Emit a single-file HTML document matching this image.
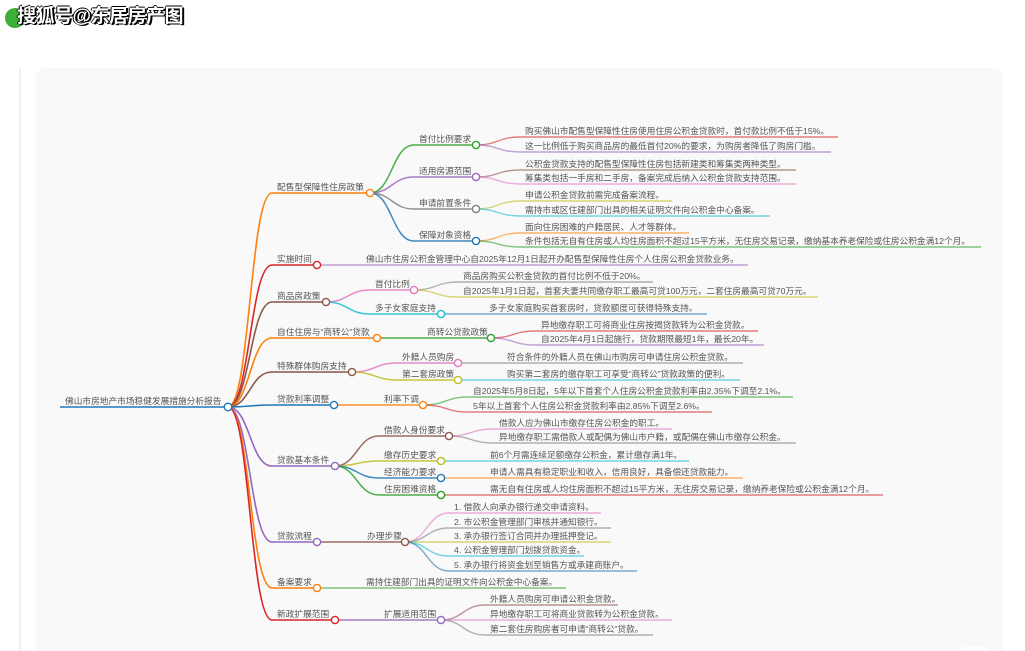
<!DOCTYPE html>
<html><head><meta charset="utf-8">
<style>
html,body{margin:0;padding:0;background:#fff;width:1025px;height:651px;overflow:hidden;position:relative;}
svg{display:block;position:absolute;left:0;top:0;}
.t{font-family:"Liberation Sans","Noto Sans CJK SC",sans-serif;font-size:8.7px;fill:#555;}
.l1{fill:none;stroke-width:1.6;}
.l2{fill:none;stroke-width:1.5;opacity:.85;}
.l3{fill:none;stroke-width:1.4;opacity:.6;}
circle{fill:#fff;stroke-width:1.4;}
#hdr{position:absolute;z-index:2;left:17px;top:5px;font-family:"Liberation Sans","Noto Sans CJK SC",sans-serif;font-size:19px;font-weight:bold;color:#fff;text-shadow:1px 1px 0 #000,2px 1px 0 #000,-1px 0 0 #000,0 -1px 0 #000;letter-spacing:-0.5px;white-space:nowrap;line-height:24px;}
#dot{position:absolute;z-index:1;left:5px;top:8px;width:20px;height:20px;border-radius:50%;background:#3cb034;}
</style></head><body>
<svg width="1025" height="651" viewBox="0 0 1025 651" xmlns="http://www.w3.org/2000/svg">
<rect x="19" y="68" width="2" height="583" fill="#efefef"/>
<path d="M36,651 V78 Q36,68 46,68 H993 Q1003,68 1003,78 V651 Z" fill="#f9f9f9"/>
<rect x="960" y="647" width="28" height="8" rx="4" fill="#fff"/>

<!-- root -->
<path class="l1" stroke="#1f77b4" d="M60,407 H228"/>

<!-- level 1 links -->
<path class="l1" stroke="#ff7f0e" d="M228,407 C250,407 250,193 272,193 H370"/>
<path class="l1" stroke="#d62728" d="M228,407 C250,407 250,265 272,265 H317"/>
<path class="l1" stroke="#8c564b" d="M228,407 C250,407 250,302 272,302 H326"/>
<path class="l1" stroke="#ff7f0e" d="M228,407 C250,407 250,338 272,338 H377"/>
<path class="l1" stroke="#8c564b" d="M228,407 C250,407 250,372 272,372 H352"/>
<path class="l1" stroke="#1f77b4" d="M228,407 C250,407 250,405 272,405 H334"/>
<path class="l1" stroke="#9467bd" d="M228,407 C250,407 250,466 272,466 H335"/>
<path class="l1" stroke="#9467bd" d="M228,407 C250,407 250,542 272,542 H317"/>
<path class="l1" stroke="#ff7f0e" d="M228,407 C250,407 250,588 272,588 H317"/>
<path class="l1" stroke="#d62728" d="M228,407 C250,407 250,620 272,620 H335"/>

<!-- branch 1 -->
<path class="l2" stroke="#2ca02c" d="M370,193 C392,193 392,145 414,145 H476"/>
<path class="l2" stroke="#9467bd" d="M370,193 C392,193 392,177 414,177 H476"/>
<path class="l2" stroke="#7f7f7f" d="M370,193 C392,193 392,209 414,209 H476"/>
<path class="l2" stroke="#1f77b4" d="M370,193 C392,193 392,241 414,241 H476"/>
<path class="l3" stroke="#d62728" d="M476,145 C498,145 498,137 520,137 H838"/>
<path class="l3" stroke="#9467bd" d="M476,145 C498,145 498,152 520,152 H831"/>
<path class="l3" stroke="#8c564b" d="M476,177 C498,177 498,170 520,170 H796"/>
<path class="l3" stroke="#e377c2" d="M476,177 C498,177 498,184 520,184 H796"/>
<path class="l3" stroke="#bcbd22" d="M476,209 C498,209 498,201 520,201 H672"/>
<path class="l3" stroke="#17becf" d="M476,209 C498,209 498,216 520,216 H770"/>
<path class="l3" stroke="#ff7f0e" d="M476,241 C498,241 498,233 520,233 H689"/>
<path class="l3" stroke="#2ca02c" d="M476,241 C498,241 498,247 520,247 H981"/>

<!-- branch 2 -->
<path class="l3" stroke="#9467bd" d="M317,265 H748"/>

<!-- branch 3 -->
<path class="l2" stroke="#e377c2" d="M326,302 C348,302 348,290 370,290 H414"/>
<path class="l2" stroke="#17becf" d="M326,302 C348,302 348,314 370,314 H441"/>
<path class="l3" stroke="#7f7f7f" d="M414,290 C436,290 436,282 458,282 H653"/>
<path class="l3" stroke="#bcbd22" d="M414,290 C436,290 436,297 458,297 H818"/>
<path class="l3" stroke="#1f77b4" d="M441,314 H707"/>

<!-- branch 4 -->
<path class="l2" stroke="#2ca02c" d="M377,338 H491"/>
<path class="l3" stroke="#d62728" d="M491,338 C513,338 513,331 536,331 H758"/>
<path class="l3" stroke="#9467bd" d="M491,338 C513,338 513,345 536,345 H764"/>

<!-- branch 5 -->
<path class="l2" stroke="#e377c2" d="M352,372 C375,372 375,363 397,363 H458"/>
<path class="l2" stroke="#bcbd22" d="M352,372 C375,372 375,380 397,380 H458"/>
<path class="l3" stroke="#7f7f7f" d="M458,363 H743"/>
<path class="l3" stroke="#17becf" d="M458,380 H740"/>

<!-- branch 6 -->
<path class="l2" stroke="#ff7f0e" d="M334,405 H423"/>
<path class="l3" stroke="#2ca02c" d="M423,405 C446,405 446,397 468,397 H793"/>
<path class="l3" stroke="#d62728" d="M423,405 C446,405 446,412 468,412 H712"/>

<!-- branch 7 -->
<path class="l2" stroke="#8c564b" d="M335,466 C357,466 357,436 379,436 H449"/>
<path class="l2" stroke="#bcbd22" d="M335,466 C357,466 357,461 379,461 H441"/>
<path class="l2" stroke="#1f77b4" d="M335,466 C357,466 357,478 379,478 H441"/>
<path class="l2" stroke="#2ca02c" d="M335,466 C357,466 357,495 379,495 H441"/>
<path class="l3" stroke="#e377c2" d="M449,436 C471,436 471,429 494,429 H672"/>
<path class="l3" stroke="#7f7f7f" d="M449,436 C471,436 471,443 494,443 H796"/>
<path class="l3" stroke="#17becf" d="M441,461 H689"/>
<path class="l3" stroke="#ff7f0e" d="M441,478 H743"/>
<path class="l3" stroke="#d62728" d="M441,495 H883"/>

<!-- branch 8 -->
<path class="l2" stroke="#8c564b" d="M317,542 H405"/>
<path class="l3" stroke="#e377c2" d="M405,542 C427,542 427,513 449,513 H601"/>
<path class="l3" stroke="#7f7f7f" d="M405,542 C427,542 427,528 449,528 H611"/>
<path class="l3" stroke="#bcbd22" d="M405,542 C427,542 427,542 449,542 H611"/>
<path class="l3" stroke="#17becf" d="M405,542 C427,542 427,556 449,556 H584"/>
<path class="l3" stroke="#1f77b4" d="M405,542 C427,542 427,571 449,571 H637"/>

<!-- branch 9 -->
<path class="l3" stroke="#2ca02c" d="M317,588 H566"/>

<!-- branch 10 -->
<path class="l2" stroke="#9467bd" d="M335,620 H441"/>
<path class="l3" stroke="#8c564b" d="M441,620 C463,620 463,605 485,605 H618"/>
<path class="l3" stroke="#e377c2" d="M441,620 C463,620 463,620 485,620 H672"/>
<path class="l3" stroke="#7f7f7f" d="M441,620 C463,620 463,635 485,635 H653"/>

<!-- circles -->
<circle cx="228" cy="407" r="3.8" stroke="#1f77b4"/>
<circle cx="370" cy="193" r="3.6" stroke="#ff7f0e"/>
<circle cx="317" cy="265" r="3.6" stroke="#d62728"/>
<circle cx="326" cy="302" r="3.6" stroke="#8c564b"/>
<circle cx="377" cy="338" r="3.6" stroke="#ff7f0e"/>
<circle cx="352" cy="372" r="3.6" stroke="#8c564b"/>
<circle cx="334" cy="405" r="3.6" stroke="#1f77b4"/>
<circle cx="335" cy="466" r="3.6" stroke="#9467bd"/>
<circle cx="317" cy="542" r="3.6" stroke="#9467bd"/>
<circle cx="317" cy="588" r="3.6" stroke="#ff7f0e"/>
<circle cx="335" cy="620" r="3.6" stroke="#d62728"/>
<circle cx="476" cy="145" r="3.6" stroke="#2ca02c"/>
<circle cx="476" cy="177" r="3.6" stroke="#9467bd"/>
<circle cx="476" cy="209" r="3.6" stroke="#7f7f7f"/>
<circle cx="476" cy="241" r="3.6" stroke="#1f77b4"/>
<circle cx="414" cy="290" r="3.6" stroke="#e377c2"/>
<circle cx="441" cy="314" r="3.6" stroke="#17becf"/>
<circle cx="491" cy="338" r="3.6" stroke="#2ca02c"/>
<circle cx="458" cy="363" r="3.6" stroke="#e377c2"/>
<circle cx="458" cy="380" r="3.6" stroke="#bcbd22"/>
<circle cx="423" cy="405" r="3.6" stroke="#ff7f0e"/>
<circle cx="449" cy="436" r="3.6" stroke="#8c564b"/>
<circle cx="441" cy="461" r="3.6" stroke="#bcbd22"/>
<circle cx="441" cy="478" r="3.6" stroke="#1f77b4"/>
<circle cx="441" cy="495" r="3.6" stroke="#2ca02c"/>
<circle cx="405" cy="542" r="3.6" stroke="#8c564b"/>
<circle cx="441" cy="620" r="3.6" stroke="#9467bd"/>

<!-- text -->
<text class="t" x="65" y="404">佛山市房地产市场稳健发展措施分析报告</text>

<text class="t" x="277" y="190">配售型保障性住房政策</text>
<text class="t" x="277" y="262">实施时间</text>
<text class="t" x="277" y="299">商品房政策</text>
<text class="t" x="277" y="335">自住住房与“商转公”贷款</text>
<text class="t" x="277" y="369">特殊群体购房支持</text>
<text class="t" x="277" y="402">贷款利率调整</text>
<text class="t" x="277" y="463">贷款基本条件</text>
<text class="t" x="277" y="539">贷款流程</text>
<text class="t" x="277" y="585">备案要求</text>
<text class="t" x="277" y="617">新政扩展范围</text>

<text class="t" x="419" y="142">首付比例要求</text>
<text class="t" x="419" y="174">适用房源范围</text>
<text class="t" x="419" y="206">申请前置条件</text>
<text class="t" x="419" y="238">保障对象资格</text>
<text class="t" x="525" y="134">购买佛山市配售型保障性住房使用住房公积金贷款时，首付款比例不低于15%。</text>
<text class="t" x="525" y="149">这一比例低于购买商品房的最低首付20%的要求，为购房者降低了购房门槛。</text>
<text class="t" x="525" y="167">公积金贷款支持的配售型保障性住房包括新建类和筹集类两种类型。</text>
<text class="t" x="525" y="181">筹集类包括一手房和二手房，备案完成后纳入公积金贷款支持范围。</text>
<text class="t" x="525" y="198">申请公积金贷款前需完成备案流程。</text>
<text class="t" x="525" y="213">需持市或区住建部门出具的相关证明文件向公积金中心备案。</text>
<text class="t" x="525" y="230">面向住房困难的户籍居民、人才等群体。</text>
<text class="t" x="525" y="244">条件包括无自有住房或人均住房面积不超过15平方米，无住房交易记录，缴纳基本养老保险或住房公积金满12个月。</text>

<text class="t" x="366" y="262">佛山市住房公积金管理中心自2025年12月1日起开办配售型保障性住房个人住房公积金贷款业务。</text>

<text class="t" x="375" y="287">首付比例</text>
<text class="t" x="375" y="311">多子女家庭支持</text>
<text class="t" x="463" y="279">商品房购买公积金贷款的首付比例不低于20%。</text>
<text class="t" x="463" y="294">自2025年1月1日起，首套夫妻共同缴存职工最高可贷100万元，二套住房最高可贷70万元。</text>
<text class="t" x="489" y="311">多子女家庭购买首套房时，贷款额度可获得特殊支持。</text>

<text class="t" x="427" y="335">商转公贷款政策</text>
<text class="t" x="541" y="328">异地缴存职工可将商业住房按揭贷款转为公积金贷款。</text>
<text class="t" x="541" y="342">自2025年4月1日起施行，贷款期限最短1年，最长20年。</text>

<text class="t" x="402" y="360">外籍人员购房</text>
<text class="t" x="402" y="377">第二套房政策</text>
<text class="t" x="507" y="360">符合条件的外籍人员在佛山市购房可申请住房公积金贷款。</text>
<text class="t" x="507" y="377">购买第二套房的缴存职工可享受“商转公”贷款政策的便利。</text>

<text class="t" x="384" y="402">利率下调</text>
<text class="t" x="473" y="394">自2025年5月8日起，5年以下首套个人住房公积金贷款利率由2.35%下调至2.1%。</text>
<text class="t" x="473" y="409">5年以上首套个人住房公积金贷款利率由2.85%下调至2.6%。</text>

<text class="t" x="384" y="433">借款人身份要求</text>
<text class="t" x="384" y="458">缴存历史要求</text>
<text class="t" x="384" y="475">经济能力要求</text>
<text class="t" x="384" y="492">住房困难资格</text>
<text class="t" x="499" y="426">借款人应为佛山市缴存住房公积金的职工。</text>
<text class="t" x="499" y="440">异地缴存职工需借款人或配偶为佛山市户籍，或配偶在佛山市缴存公积金。</text>
<text class="t" x="490" y="458">前6个月需连续足额缴存公积金，累计缴存满1年。</text>
<text class="t" x="490" y="475">申请人需具有稳定职业和收入，信用良好，具备偿还贷款能力。</text>
<text class="t" x="490" y="492">需无自有住房或人均住房面积不超过15平方米，无住房交易记录，缴纳养老保险或公积金满12个月。</text>

<text class="t" x="367" y="539">办理步骤</text>
<text class="t" x="454" y="510">1. 借款人向承办银行递交申请资料。</text>
<text class="t" x="454" y="525">2. 市公积金管理部门审核并通知银行。</text>
<text class="t" x="454" y="539">3. 承办银行签订合同并办理抵押登记。</text>
<text class="t" x="454" y="553">4. 公积金管理部门划拨贷款资金。</text>
<text class="t" x="454" y="568">5. 承办银行将资金划至销售方或承建商账户。</text>

<text class="t" x="366" y="585">需持住建部门出具的证明文件向公积金中心备案。</text>

<text class="t" x="384" y="617">扩展适用范围</text>
<text class="t" x="490" y="602">外籍人员购房可申请公积金贷款。</text>
<text class="t" x="490" y="617">异地缴存职工可将商业贷款转为公积金贷款。</text>
<text class="t" x="490" y="632">第二套住房购房者可申请“商转公”贷款。</text>
</svg>
<div id="dot"></div>
<div id="hdr">搜狐号@东居房产图</div>
</body></html>
